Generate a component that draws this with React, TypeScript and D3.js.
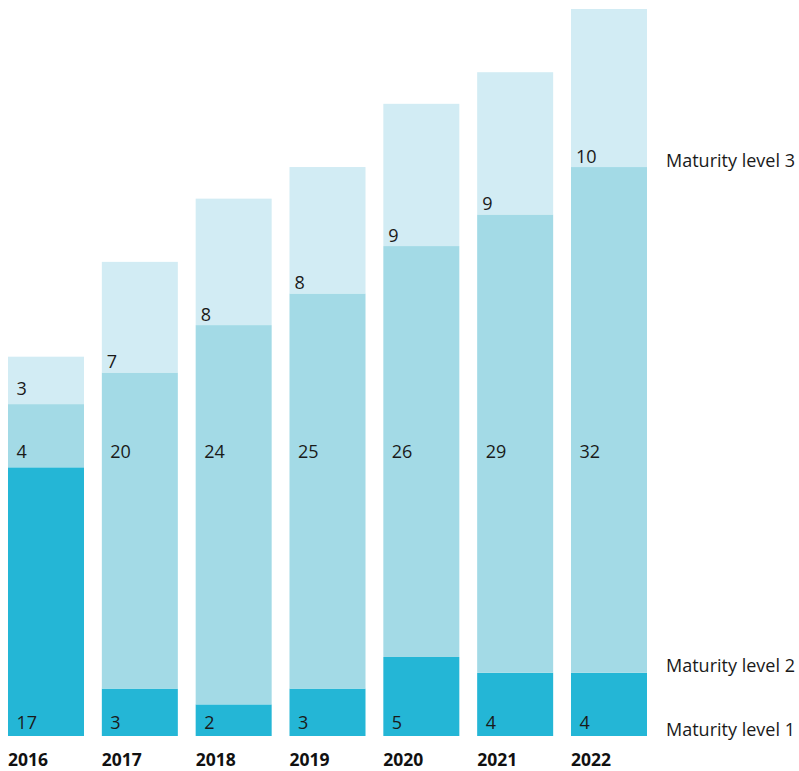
import React from "react";
import * as d3 from "d3";

const years = ["2016", "2017", "2018", "2019", "2020", "2021", "2022"];
const level1 = [17, 3, 2, 3, 5, 4, 4];
const level2 = [4, 20, 24, 25, 26, 29, 32];
const level3 = [3, 7, 8, 8, 9, 9, 10];
const seriesNames = ["Maturity level 1", "Maturity level 2", "Maturity level 3"];
const colors = ["#24b6d6", "#a3dae6", "#d2ecf4"];

const W = 799;
const H = 771;
const FONT = "'Open Sans', 'Noto Sans', sans-serif";

export default function App() {
  const rows = years.map((y, i) => ({ year: y, l1: level1[i], l2: level2[i], l3: level3[i] }));
  const stack = d3.stack<any>().keys(["l1", "l2", "l3"]);
  const series = stack(rows);
  const maxTotal = d3.max(rows, (r) => r.l1 + r.l2 + r.l3) as number;

  const x = d3.scaleBand<string>().domain(years).range([8, 647]).paddingInner(0.19).paddingOuter(0);
  const y = d3.scaleLinear().domain([0, maxTotal]).range([736, 9]);
  const bw = x.bandwidth();
  const lastIdx = years.length - 1;

  return (
    <svg
      width={W}
      height={H}
      style={{ position: "absolute", left: 0, top: 0, fontFamily: FONT }}
    >
      {series.map((s, si) => (
        <g key={si} fill={colors[si]}>
          {s.map((d, i) => (
            <rect
              key={i}
              x={x(years[i])}
              y={y(d[1])}
              width={bw}
              height={y(d[0]) - y(d[1])}
            />
          ))}
        </g>
      ))}
      {/* value labels */}
      {series.map((s, si) => (
        <g key={"l" + si} fontSize={18} fill="#1a1a1a">
          {s.map((d, i) => {
            const v = d[1] - d[0];
            const x0 = x(years[i]) as number;
            let cy: number;
            let dx = 8.5;
            if (si === 0) {
              cy = y(0) - 14;
            } else if (si === 1) {
              cy = y(18);
            } else {
              const top = y(d[1]);
              const bot = y(d[0]);
              if (bot - top < 60) {
                cy = (top + bot) / 2 + 8;
                dx = 8.5;
              } else {
                cy = bot - 11;
                dx = 5;
              }
            }
            return (
              <text key={i} x={x0 + dx} y={cy + 6.5}>
                {v}
              </text>
            );
          })}
        </g>
      ))}
      {/* legend at right, aligned with last bar segments */}
      {series.map((s, si) => (
        <text
          key={"g" + si}
          x={666}
          y={y(s[lastIdx][0]) - 7 + 6.5}
          fontSize={18}
          fill="#1a1a1a"
        >
          {seriesNames[si]}
        </text>
      ))}
      {/* year labels */}
      {years.map((yr) => (
        <text
          key={yr}
          x={x(yr) as number}
          y={766}
          fontSize={17.5}
          fontWeight="bold"
          fill="#111"
        >
          {yr}
        </text>
      ))}
    </svg>
  );
}
